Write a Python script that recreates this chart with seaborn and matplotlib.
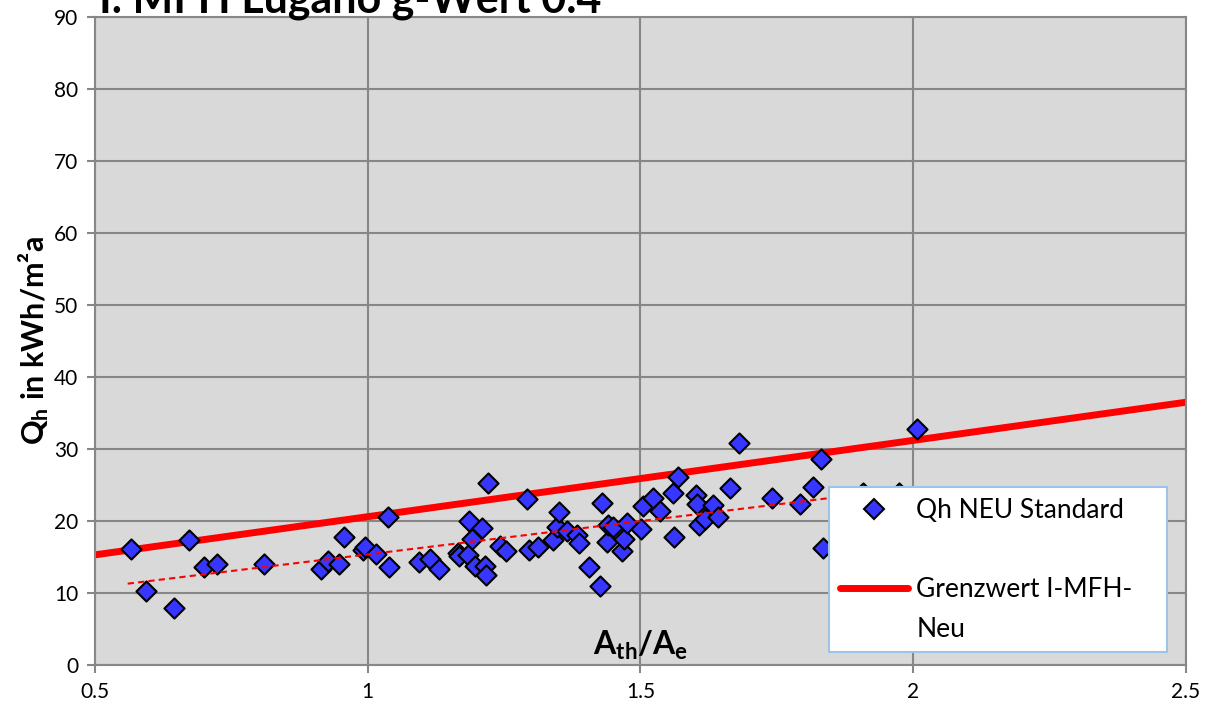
import numpy as np
import pandas as pd
import matplotlib
matplotlib.use('Agg')
import matplotlib.pyplot as plt
from matplotlib.lines import Line2D
import seaborn as sns

# A_th/A_e vs Q_h values
ath_ae = [0.566, 0.593, 0.645, 0.672, 0.700, 0.724, 0.810, 0.914, 0.928, 0.947,
          0.956, 0.991, 0.995, 1.015, 1.038, 1.039, 1.094, 1.114, 1.131, 1.165,
          1.168, 1.184, 1.186, 1.191, 1.197, 1.209, 1.215, 1.216, 1.220, 1.242,
          1.254, 1.292, 1.296, 1.312, 1.340, 1.347, 1.351, 1.365, 1.384, 1.387,
          1.405, 1.426, 1.429, 1.439, 1.441, 1.450, 1.466, 1.470, 1.475, 1.501,
          1.505, 1.523, 1.536, 1.560, 1.561, 1.569, 1.602, 1.603, 1.607, 1.618,
          1.633, 1.642, 1.664, 1.681, 1.741, 1.792, 1.816, 1.831, 1.835, 1.908,
          1.974, 2.007]
qh = [16.1, 10.3, 7.9, 17.4, 13.6, 14.0, 14.1, 13.4, 14.5, 14.0,
      17.8, 16.0, 16.4, 15.4, 20.6, 13.6, 14.3, 14.7, 13.4, 15.5,
      15.1, 15.3, 20.0, 17.5, 13.8, 19.0, 13.8, 12.5, 25.3, 16.6,
      15.9, 23.1, 16.0, 16.4, 17.3, 19.2, 21.2, 18.6, 18.1, 17.0,
      13.6, 11.0, 22.5, 17.1, 19.4, 19.2, 15.8, 17.5, 19.7, 18.9,
      22.1, 23.2, 21.4, 23.9, 17.8, 26.1, 23.6, 22.3, 19.4, 20.3,
      22.2, 20.6, 24.6, 30.9, 23.2, 22.4, 24.7, 28.6, 16.2, 23.9,
      23.9, 32.8]

# Grenzwert line and linear trend endpoints
limit_x = [0.5, 2.5]
limit_y = [15.3, 36.5]
trend_x = [0.56, 2.01]
trend_y = [11.3, 24.7]

x_ticks = [0.5, 1, 1.5, 2, 2.5]
x_tick_labels = ['0.5', '1', '1.5', '2', '2.5']
y_ticks = list(range(0, 91, 10))

sns.set_style('whitegrid', {
    'axes.facecolor': '#d9d9d9',
    'grid.color': '#878787',
    'axes.edgecolor': '#878787',
    'text.color': 'black',
    'axes.labelcolor': 'black',
    'xtick.color': 'black',
    'ytick.color': 'black',
})
plt.rcParams['font.family'] = ['Lato', 'DejaVu Sans']
plt.rcParams['mathtext.fontset'] = 'custom'
plt.rcParams['mathtext.rm'] = 'Lato'
plt.rcParams['mathtext.bf'] = 'Lato:bold'
plt.rcParams['mathtext.it'] = 'Lato:italic'

df = pd.DataFrame({'ath_ae': ath_ae, 'qh': qh})
limit_df = pd.DataFrame({'x': limit_x, 'y': limit_y})
trend_df = pd.DataFrame({'x': trend_x, 'y': trend_y})

fig = plt.figure(figsize=(12.08, 7.15), dpi=100)
ax = fig.add_axes([0.0786, 0.0699, 0.9032, 0.9063])

sns.lineplot(data=limit_df, x='x', y='y', color='#ff0000', linewidth=5, ax=ax, zorder=2)
sns.scatterplot(data=df, x='ath_ae', y='qh', marker='D', s=105, color='#3636ff',
                edgecolor='black', linewidth=1.5, ax=ax, zorder=3)
sns.lineplot(data=trend_df, x='x', y='y', color='#ff0000', linewidth=1.5,
             linestyle=(0, (3, 2)), ax=ax, zorder=4)

ax.set_xlim(0.5, 2.5)
ax.set_ylim(0, 90)
ax.set_xticks(x_ticks)
ax.set_xticklabels(x_tick_labels)
ax.set_yticks(y_ticks)
ax.grid(True, color='#878787', linewidth=1.5)
for sp in ax.spines.values():
    sp.set_color('#878787')
    sp.set_linewidth(1.5)
ax.tick_params(axis='both', labelsize=15, labelcolor='black', length=6, width=1.5,
               color='#878787', direction='out', pad=6)
ax.tick_params(left=True, bottom=True)

ax.set_xlabel('')
ax.set_ylabel(r'$\mathbf{Q_h}$ in kWh/m²a', fontsize=22, fontweight='bold', color='black')
ax.yaxis.set_label_coords(-0.040, 0.5)
ax.text(0.5, 0.016, r'$\mathbf{A_{th}/A_e}$', transform=ax.transAxes,
        fontsize=23, ha='center', va='baseline', color='black', zorder=6)

# title sits partly above the canvas, as in the original export
fig.text(0.082, 0.983, 'I. MFH Lugano g-Wert 0.4', fontsize=31, fontweight='bold',
         ha='left', va='baseline', color='black')

handles = [
    Line2D([], [], marker='D', markersize=10, markerfacecolor='#3636ff',
           markeredgecolor='black', markeredgewidth=1.5, linestyle='none'),
    Line2D([], [], linestyle='none'),
    Line2D([], [], color='#ff0000', linewidth=5),
    Line2D([], [], linestyle='none'),
]
labels = ['Qh NEU Standard', '', 'Grenzwert I-MFH-', 'Neu']
leg = ax.legend(handles, labels, loc='lower left',
                bbox_to_anchor=(0.673, 0.020, 0.31, 0.247), mode='expand',
                fontsize=19, frameon=True, fancybox=False, framealpha=1,
                facecolor='white', edgecolor='#9dc3e6', handlelength=2.6,
                handletextpad=0.3, labelspacing=0.55, borderpad=0.4,
                borderaxespad=0, labelcolor='black')
leg.get_frame().set_linewidth(1.5)
leg.set_zorder(10)

fig.savefig('out.png', dpi=100)
